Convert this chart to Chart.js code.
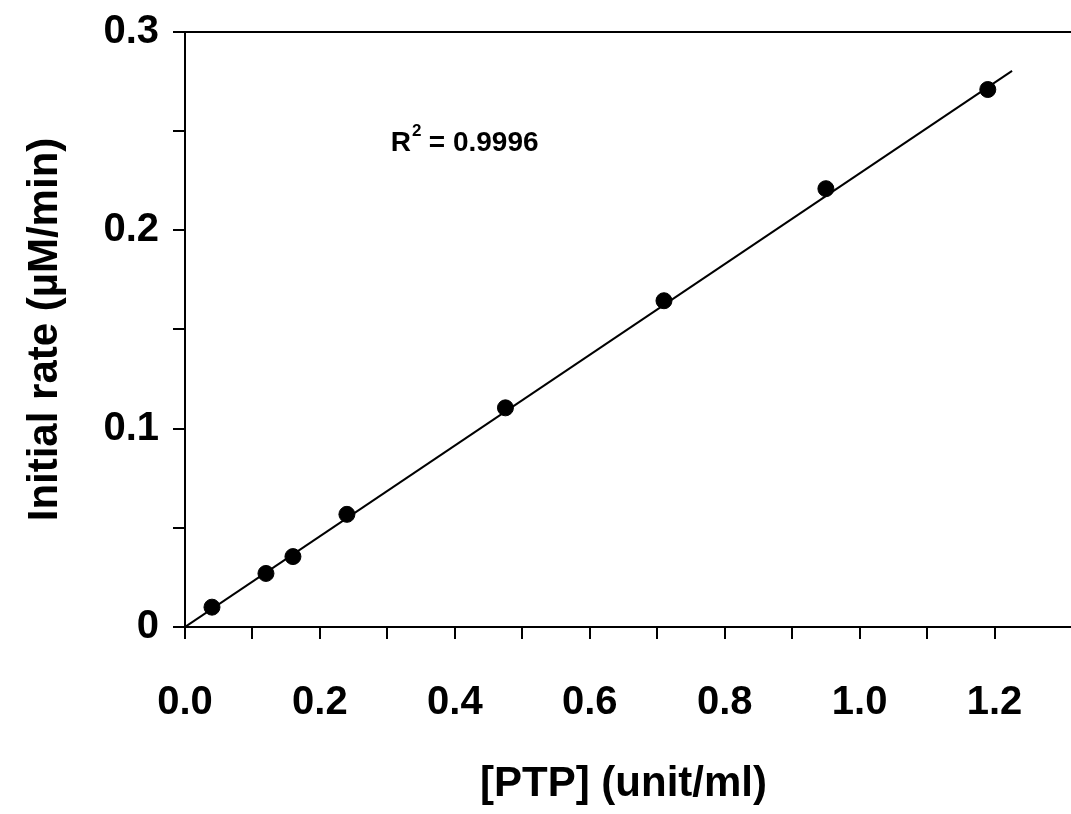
<!DOCTYPE html>
<html><head><meta charset="utf-8">
<script src="https://cdn.jsdelivr.net/npm/chart.js@4"></script>
<style>html,body{margin:0;padding:0;background:#fff}#c{display:block}</style>
</head><body>
<div style="width:1071px;height:814px"><canvas id="c"></canvas></div>
<script>
const ptpX = [0.04, 0.12, 0.16, 0.24, 0.475, 0.71, 0.95, 1.19];
const rateY = [0.010, 0.027, 0.0355, 0.0568, 0.1105, 0.1645, 0.2210, 0.2710];
const fitX = [0, 1.226];
const fitY = [0, 0.2804];
const xTickLabels = ['0.0','0.2','0.4','0.6','0.8','1.0','1.2'];
const yTickLabels = ['0','0.1','0.2','0.3'];
const FONT = '"Liberation Sans",Arial,sans-serif';

const frame = {
  id:'frame',
  afterDraw(c){
    const {ctx, chartArea:a, scales:{x,y}} = c;
    ctx.save();
    ctx.strokeStyle='#000'; ctx.lineWidth=2;
    ctx.beginPath(); ctx.moveTo(a.left,a.top); ctx.lineTo(a.right+10,a.top); ctx.stroke();
    ctx.beginPath(); ctx.moveTo(a.right,a.bottom); ctx.lineTo(a.right+10,a.bottom); ctx.stroke();
    ctx.fillStyle='#000';
    ctx.font='bold 28px '+FONT;
    ctx.textBaseline='alphabetic';
    const px=x.getPixelForValue(0.305), py=y.getPixelForValue(0.24);
    ctx.fillText('R',px,py);
    const w=ctx.measureText('R').width;
    ctx.font='bold 17px '+FONT;
    ctx.fillText('2',px+w+1,py-15);
    ctx.font='bold 28px '+FONT;
    ctx.fillText(' = 0.9996',px+w+10,py);
    ctx.restore();
  }
};

new Chart(document.getElementById('c'),{
  type:'scatter',
  data:{datasets:[
    {data:fitX.map((v,i)=>({x:v,y:fitY[i]})),showLine:true,borderColor:'#000',borderWidth:2,pointRadius:0,order:2},
    {data:ptpX.map((v,i)=>({x:v,y:rateY[i]})),backgroundColor:'#000',borderColor:'#000',pointRadius:8,order:1}
  ]},
  options:{
    responsive:true,maintainAspectRatio:false,animation:false,
    layout:{padding:{top:12,right:-10,left:0,bottom:0}},
    plugins:{legend:{display:false},tooltip:{enabled:false}},
    scales:{
      x:{type:'linear',min:0,max:1.3,
        afterBuildTicks(s){s.ticks=[];for(let i=0;i<=12;i++)s.ticks.push({value:i/10});},
        afterFit(s){s.height=187;},
        border:{color:'#000',width:2},
        grid:{drawOnChartArea:false,color:'#000',lineWidth:2,tickLength:12},
        ticks:{color:'#000',font:{family:FONT,size:40,weight:'bold'},padding:40,maxRotation:0,autoSkip:false,
          callback:(v)=>{const i=Math.round(v*10);return i%2===0?xTickLabels[i/2]:'';}},
        title:{display:true,text:'[PTP] (unit/ml)',color:'#000',font:{family:FONT,size:42,weight:'bold'},padding:{top:8}}
      },
      y:{type:'linear',min:0,max:0.3,
        afterBuildTicks(s){s.ticks=[];for(let i=0;i<=6;i++)s.ticks.push({value:i*0.05});},
        afterFit(s){s.width=185;},
        border:{color:'#000',width:2},
        grid:{drawOnChartArea:false,color:'#000',lineWidth:2,tickLength:12},
        ticks:{color:'#000',font:{family:FONT,size:40,weight:'bold',lineHeight:0.9},padding:14,autoSkip:false,
          callback:(v)=>{const i=Math.round(v*20);return i%2===0?yTickLabels[i/2]:'';}},
        title:{display:true,text:'Initial rate (\u00b5M/min)',color:'#000',font:{family:FONT,size:42,weight:'bold'},padding:{top:20,bottom:0}}
      }
    }
  },
  plugins:[frame]
});
</script>
</body></html>
